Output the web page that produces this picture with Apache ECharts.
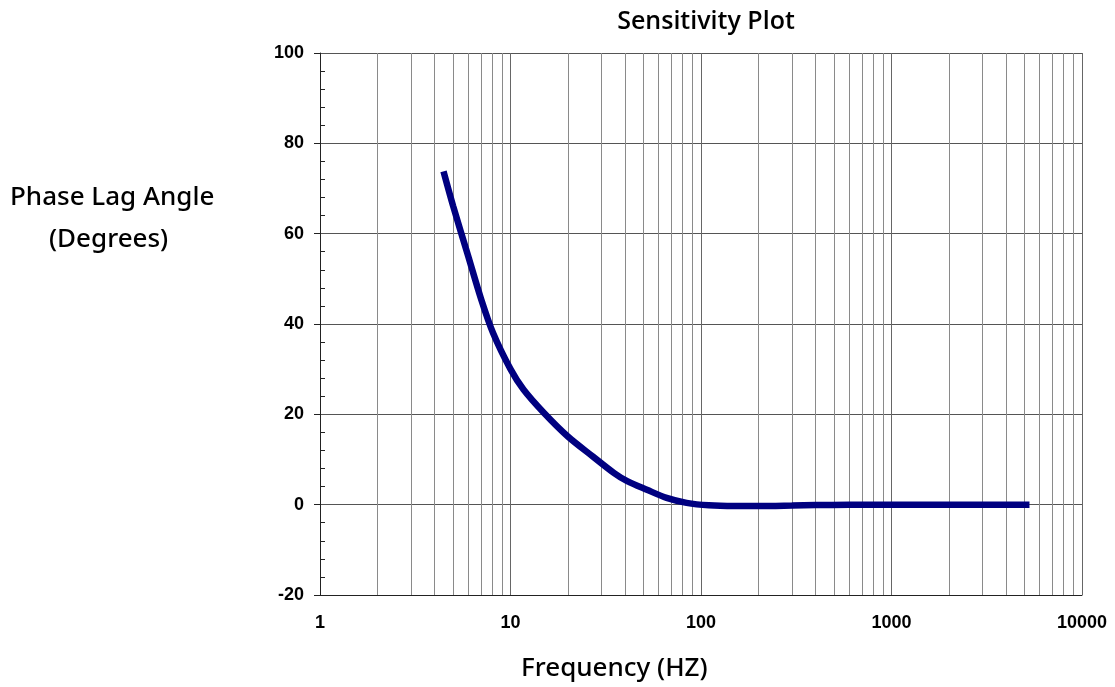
<!DOCTYPE html>
<html>
<head>
<meta charset="utf-8">
<script src="https://cdn.jsdelivr.net/npm/echarts@6/dist/echarts.min.js"></script>
<style>
html,body{margin:0;padding:0;background:#fff;}
#chart{width:1115px;height:687px;}
</style>
</head>
<body>
<div id="chart"></div>
<script>
// Data
const frequencyHz = [4.45, 5.0, 6.0, 7.0, 8.1, 10, 11.7, 15, 20, 27, 35, 41, 52, 66, 84, 110, 150, 200, 300, 400, 600, 1000, 2000, 5300];
const phaseLagDeg = [73.8, 66.1, 55.0, 45.6, 38.0, 30, 25.5, 20.3, 15.1, 10.7, 7.0, 5.2, 3.3, 1.5, 0.4, -0.15, -0.3, -0.3, -0.2, -0.1, 0, 0, 0, 0];
const xTickLabels = ['1', '10', '100', '1000', '10000'];
const yTickLabels = ['-20', '0', '20', '40', '60', '80', '100'];
const minorGridFreqs = [2,3,4,5,6,7,8,9, 20,30,40,50,60,70,80,90, 200,300,400,500,600,700,800,900, 2000,3000,4000,5000,6000,7000,8000,9000];

const chart = echarts.init(document.getElementById('chart'));
const labelFont = { fontFamily: 'Liberation Sans, Arial, sans-serif', fontWeight: 'bold', fontSize: 18, color: '#000' };

chart.setOption({
  animation: false,
  backgroundColor: '#fff',
  title: {
    text: 'Sensitivity Plot',
    left: 701, top: 4, textAlign: 'center',
    textStyle: { fontFamily: 'Open Sans', fontWeight: 600, fontSize: 25, color: '#000' }
  },
  grid: { left: 320, right: 33, top: 53, bottom: 92, containLabel: false },
  xAxis: {
    type: 'log', logBase: 10, min: 1, max: 10000,
    axisLine: { show: true, onZero: false, lineStyle: { color: '#222', width: 1 } },
    axisTick: { show: false },
    axisLabel: Object.assign({ margin: 19, formatter: v => xTickLabels[Math.round(Math.log10(v))] }, labelFont),
    splitLine: { show: true, lineStyle: { color: '#666', width: 1 } }
  },
  yAxis: [{
    type: 'value', min: -20, max: 100, interval: 20,
    axisLine: { show: true, onZero: false, lineStyle: { color: '#222', width: 1 } },
    axisTick: { show: true, inside: false, length: 6, lineStyle: { color: '#222' } },
    axisLabel: Object.assign({ margin: 16, formatter: v => yTickLabels[Math.round((v + 20) / 20)] }, labelFont),
    splitLine: { show: true, lineStyle: { color: '#555', width: 1 } }
  }, {
    type: 'value', min: -20, max: 100, interval: 20, position: 'left',
    axisLine: { show: false },
    axisTick: { show: false, inside: true },
    axisLabel: { show: false },
    splitLine: { show: false },
    minorTick: { show: true, splitNumber: 5, length: 5, lineStyle: { color: '#222', width: 1 } }
  }],
  graphic: [
    { type: 'text', left: 10, top: 185,
      style: { text: 'Phase Lag Angle', fontFamily: 'Noto Sans', fontSize: 26, fontWeight: 500, fill: '#000' } },
    { type: 'text', left: 49, top: 227,
      style: { text: '(Degrees)', fontFamily: 'Noto Sans', fontSize: 26, fontWeight: 500, fill: '#000' } },
    { type: 'text', left: 521, top: 656,
      style: { text: 'Frequency (HZ)', fontFamily: 'Noto Sans', fontSize: 26, fontWeight: 500, fill: '#000' } }
  ],
  series: [{
    type: 'line',
    data: frequencyHz.map((f, i) => [f, phaseLagDeg[i]]),
    smooth: 0.3,
    showSymbol: false,
    lineStyle: { color: '#000080', width: 6.5, cap: 'butt' },
    z: 5,
    markLine: {
      silent: true, symbol: 'none', label: { show: false }, animation: false,
      lineStyle: { color: '#8a8a8a', type: 'solid', width: 1 },
      data: minorGridFreqs.map(f => ({ xAxis: f }))
    }
  }]
});
</script>
</body>
</html>
